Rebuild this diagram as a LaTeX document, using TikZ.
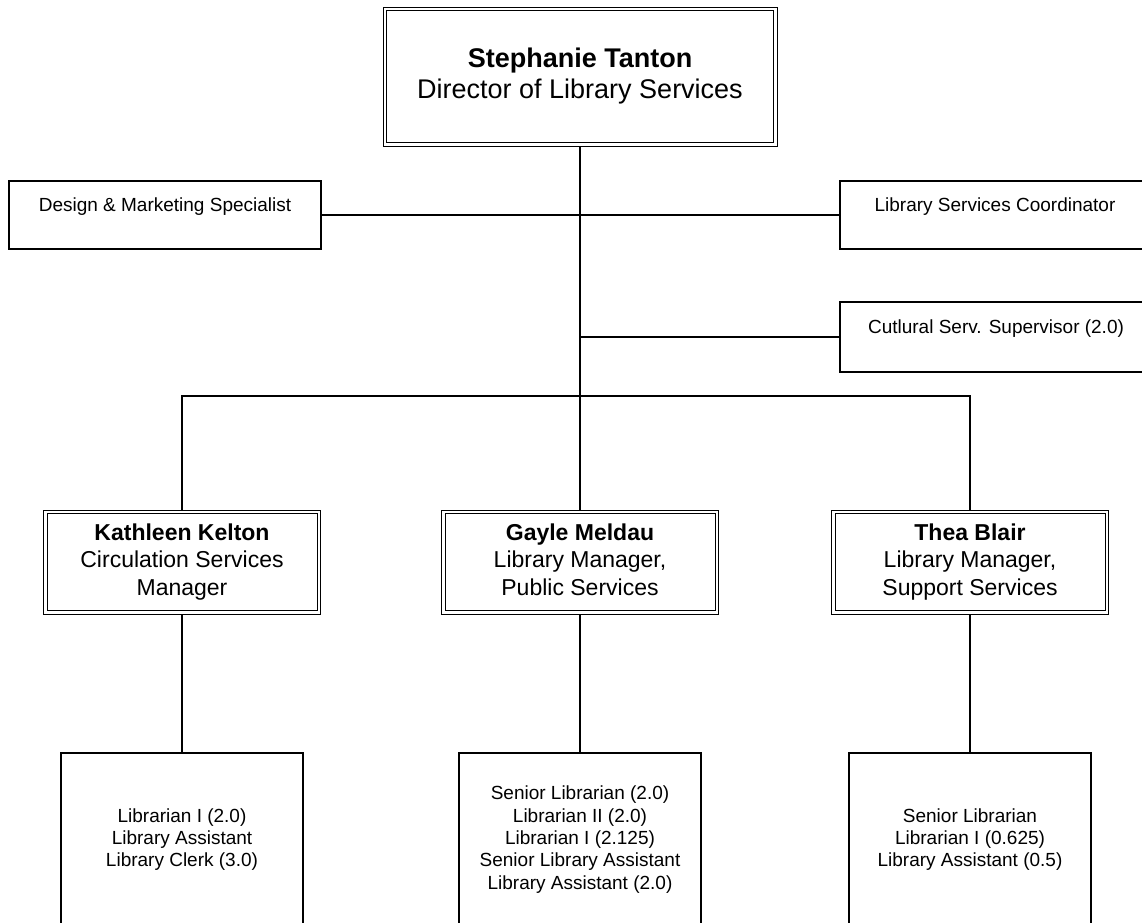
\documentclass[tikz,border=0pt]{standalone}
\usepackage{fontspec}
\setmainfont{Liberation Sans}
\begin{document}
\begin{tikzpicture}[x=1pt,y=-1pt,
  box/.style={draw, line width=1.1pt, inner sep=0pt},
  dbox/.style={draw, line width=1pt, inner sep=0pt, align=center},
  innerframe/.style={line width=1pt},
  small/.style={font=\fontsize{19}{22.3}\selectfont, align=center},
  mid/.style={font=\fontsize{23}{27.5}\selectfont},
  big/.style={font=\fontsize{27}{31}\selectfont},
  conn/.style={line width=1.1pt}]
\useasboundingbox (0,0) rectangle (1142,922);
\clip (0,0) rectangle (1142,922);

% director
\node[dbox, big, minimum width=394pt, minimum height=139pt] (dir) at (580,76.5)
  {\strut\textbf{Stephanie Tanton}\\Director of Library Services\strut};

% staff boxes
\node[box, minimum width=312pt, minimum height=68pt] (dms) at (165,215) {};
\node[small, anchor=base] (dmst) at (165,211) {Design \& Marketing Specialist};
\node[box, minimum width=310pt, minimum height=68pt] (lsc) at (995,215) {};
\node[small, anchor=base] (lsct) at (995,211) {Library Services Coordinator};
\node[box, minimum width=310pt, minimum height=70pt] (csv) at (995,337) {};
\node[small, anchor=base] (csvt) at (996,333) {Cutlural Serv. Supervisor (2.0)};

% managers
\node[dbox, mid, minimum width=277pt, minimum height=104pt] (kk) at (182,562)
  {\strut\textbf{Kathleen Kelton}\\Circulation Services\\Manager\strut};
\node[dbox, mid, minimum width=277pt, minimum height=104pt] (gm) at (580,562)
  {\strut\textbf{Gayle Meldau}\\Library Manager,\\Public Services\strut};
\node[dbox, mid, minimum width=277pt, minimum height=104pt] (tb) at (970,562)
  {\strut\textbf{Thea Blair}\\Library Manager,\\Support Services\strut};

% inner frames of the double borders
\foreach \n in {dir,kk,gm,tb}
  \draw[innerframe] ([shift={(4pt,-4pt)}]\n.north west) rectangle ([shift={(-4pt,4pt)}]\n.south east);

% teams
\node[box, small, minimum width=242pt, minimum height=174pt] (kkt) at (182,840)
  {\strut Librarian I (2.0)\\Library Assistant\\Library Clerk (3.0)\strut};
\node[box, small, minimum width=242pt, minimum height=174pt] (gmt) at (580,840)
  {\strut Senior Librarian (2.0)\\Librarian II (2.0)\\Librarian I (2.125)\\Senior Library Assistant\\Library Assistant (2.0)\strut};
\node[box, small, minimum width=242pt, minimum height=174pt] (tbt) at (970,840)
  {\strut Senior Librarian\\Librarian I (0.625)\\Library Assistant (0.5)\strut};

% connectors
\coordinate (bus) at (580,396);
\draw[conn] (dir.south) -- (gm.north);
\draw[conn] (dms.east) -- (lsc.west);
\draw[conn] (csv.west) -- (csv.west -| dir.south);
\draw[conn] (kk.north) |- (bus) -| (tb.north);
\draw[conn] (kk.south) -- (kkt.north);
\draw[conn] (gm.south) -- (gmt.north);
\draw[conn] (tb.south) -- (tbt.north);
\end{tikzpicture}
\end{document}
